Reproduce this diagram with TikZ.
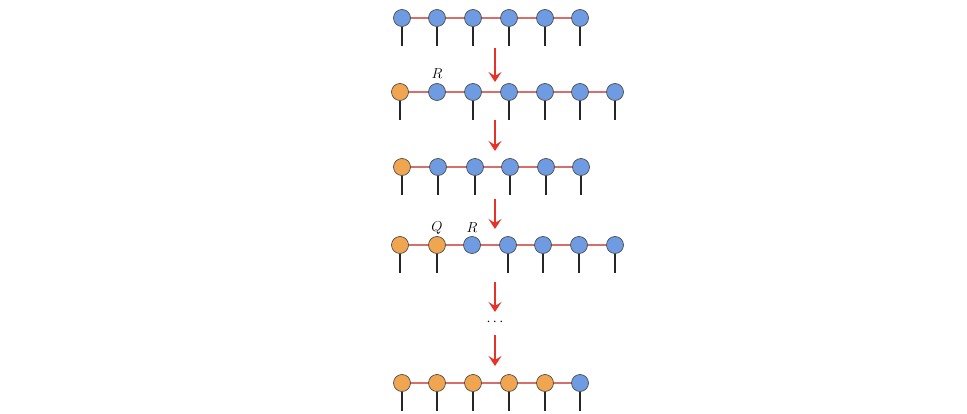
\documentclass[tikz,border=0pt]{standalone}
\usetikzlibrary{arrows.meta}
\definecolor{bl}{RGB}{110,155,225}
\definecolor{og}{RGB}{240,165,80}
\definecolor{bond}{RGB}{215,110,105}
\definecolor{arr}{RGB}{230,50,40}
\tikzset{
 bt/.style={circle,draw=black!70,line width=0.7pt,fill=bl,minimum size=17pt,inner sep=0pt},
 ot/.style={bt,fill=og},
 bondl/.style={bond,line width=1.6pt},
 legl/.style={black!85,line width=1.4pt},
 redarr/.style={arr,line width=2.2pt,-{Stealth[length=10pt,width=13pt,inset=4pt]}},
 lab/.style={font=\Large},
}
\begin{document}
\begin{tikzpicture}[x=1pt,y=-1pt]
\useasboundingbox (0,0) rectangle (967,414);
% row 1
\foreach \x [count=\i] in {402,437,473,509,545,580}{\coordinate (p1\i) at (\x,18);}
\draw[bondl] (p11)--(p16);
\foreach \i in {1,...,6}{\node[bt] (a\i) at (p1\i){}; \coordinate (l\i) at ([yshift=-19pt]a\i.south); \draw[legl] (a\i.south)--(l\i);}
% row 2
\foreach \x [count=\i] in {400,437,473,509,545,580,615}{\coordinate (p2\i) at (\x,92);}
\draw[bondl] (p21)--(p27);
\node[ot] (b1) at (p21){};
\foreach \i in {2,...,7}{\node[bt] (b\i) at (p2\i){};}
\foreach \i in {1,3,4,5,6,7}{\coordinate (m\i) at ([yshift=-19pt]b\i.south); \draw[legl] (b\i.south)--(m\i);}
\node[lab] (R1) at (437,74) {$R$};
% row 3
\foreach \x [count=\i] in {402,438,475,510,546,581}{\coordinate (p3\i) at (\x,167);}
\draw[bondl] (p31)--(p36);
\node[ot] (c1) at (p31){};
\foreach \i in {2,...,6}{\node[bt] (c\i) at (p3\i){};}
\foreach \i in {1,...,6}{\coordinate (n\i) at ([yshift=-19pt]c\i.south); \draw[legl] (c\i.south)--(n\i);}
% row 4
\foreach \x [count=\i] in {400,437,472,508,543,579,615}{\coordinate (p4\i) at (\x,245);}
\draw[bondl] (p41)--(p47);
\node[ot] (d1) at (p41){};
\node[ot] (d2) at (p42){};
\foreach \i in {3,...,7}{\node[bt] (d\i) at (p4\i){};}
\foreach \i in {1,2,4,5,6,7}{\coordinate (o\i) at ([yshift=-19pt]d\i.south); \draw[legl] (d\i.south)--(o\i);}
\node[lab] (Q2) at (437,228) {$Q$};
\node[lab] (R2) at (472,228) {$R$};
% row 5
\foreach \x [count=\i] in {402,437,473,509,545,580}{\coordinate (p5\i) at (\x,383);}
\draw[bondl] (p51)--(p56);
\foreach \i in {1,...,5}{\node[ot] (e\i) at (p5\i){};}
\node[bt] (e6) at (p56){};
\foreach \i in {1,...,6}{\coordinate (q\i) at ([yshift=-19pt]e\i.south); \draw[legl] (e\i.south)--(q\i);}
% arrows
\coordinate (s1) at (495,48); \coordinate (t1) at (495,82);
\coordinate (s2) at (495,120); \coordinate (t2) at (495,151);
\coordinate (s3) at (495,199); \coordinate (t3) at (495,229);
\coordinate (s4) at (495,282); \coordinate (t4) at (495,312);
\coordinate (s5) at (495,335); \coordinate (t5) at (495,366);
\foreach \i in {1,...,5}{\draw[redarr] (s\i)--(t\i);}
\node[lab] (dots) at (495,322) {$\cdots$};
\end{tikzpicture}
\end{document}
